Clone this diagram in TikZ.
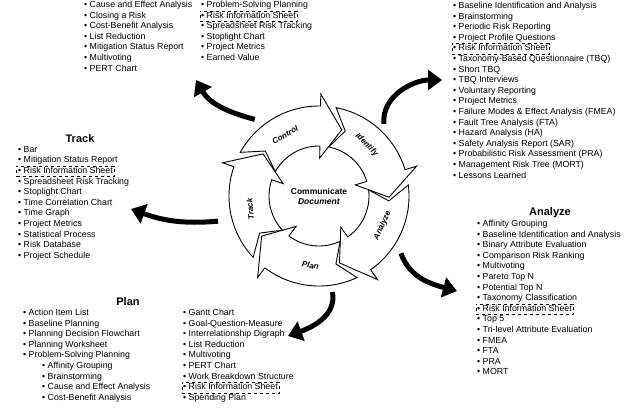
\documentclass[tikz,border=0pt]{standalone}
\usepackage{fontspec}
\setmainfont{Liberation Sans}
\usetikzlibrary{arrows.meta}

\newcommand\risbox[1]{\hspace*{-1.7pt}\tikz[baseline=(rb.base)]\node[draw, dashed, line width=.4pt, anchor=base west, inner xsep=1.5pt, inner ysep=0pt] (rb) {#1};}

\begin{document}
\begin{tikzpicture}[x=1pt, y=1pt,
        ringarrow/.style={draw=black, fill=white, line width=0.9pt},
        ringlabel/.style={font=\fontsize{8}{9}\selectfont\bfseries\itshape},
        hubtext/.style={font=\fontsize{8.5}{10}\selectfont\bfseries, align=center},
        swoosh/.style={line width=5pt, -{Triangle[length=14pt, width=20pt]}},
        listtitle/.style={font=\fontsize{11}{13}\selectfont\bfseries},
        itemlist/.style={anchor=north west, inner sep=0pt, align=left,
            font=\fontsize{8.8}{10.6}\selectfont, execute at begin node=\strut}]
            \useasboundingbox (0,0) rectangle (640,-408);

            % the wheel
            \coordinate (hub) at (319,-196);
            \begin{scope}[shift={(hub)}]
                \foreach \tip/\name/\lrot in {71/Control/29, -1/Identify/-45, -73/Analyze/65, -145/Plan/-10, 143/Track/95} {
                    \draw[ringarrow] (\tip+80:90) arc[start angle=\tip+80, end angle=\tip+18, radius=90]
                        -- (\tip+18:102) -- (\tip:70) -- (\tip+18:38) -- (\tip+18:50)
                        arc[start angle=\tip+18, end angle=\tip+80, radius=50] -- (\tip+69:70) -- cycle;
                    \node[ringlabel, rotate=\lrot] (\name) at (\tip+48:70) {\name};
                }
            \end{scope}
            \node[hubtext] (center) at (hub) {Communicate\\\textit{Document}};

            % swooshes out to the lists
            \path (hub) ++(130:100) coordinate (ctrl-from);
            \path (hub) ++(48:97)   coordinate (iden-from);
            \path (hub) ++(-35:100) coordinate (anal-from);
            \path (hub) ++(-82:97)  coordinate (plan-from);
            \path (hub) ++(194:104) coordinate (trck-from);
            \coordinate (ctrl-to) at (196,-80);
            \coordinate (iden-to) at (442,-80);
            \coordinate (anal-to) at (457,-291);
            \coordinate (plan-to) at (288,-336);
            \coordinate (trck-to) at (131,-209);

            \draw[swoosh] (ctrl-from) to[out=165, in=-60] (ctrl-to);
            \draw[swoosh] (iden-from) to[out=95, in=180] (iden-to);
            \draw[swoosh] (anal-from) to[out=-70, in=165] (anal-to);
            \draw[swoosh] (plan-from) to[out=-80, in=20] (plan-to);
            \draw[swoosh] (trck-from) to[out=185, in=-20] (trck-to);

            % Control
            \node[itemlist] (ctrl-a) at (84,-1) {• Cause and Effect Analysis\\• Closing a Risk\\• Cost-Benefit Analysis\\• List Reduction\\• Mitigation Status Report\\• Multivoting\\• PERT Chart};
            \node[itemlist] (ctrl-b) at (201,-1) {• Problem-Solving Planning\\\risbox{• Risk Information Sheet}\\• Spreadsheet Risk Tracking\\• Stoplight Chart\\• Project Metrics\\• Earned Value};

            % Identify
            \node[itemlist] (iden) at (453,-2) {• Baseline Identification and Analysis\\• Brainstorming\\• Periodic Risk Reporting\\• Project Profile Questions\\\risbox{• Risk Information Sheet}\\• Taxonomy-Based Questionnaire (TBQ)\\• Short TBQ\\• TBQ Interviews\\• Voluntary Reporting\\• Project Metrics\\• Failure Modes \& Effect Analysis (FMEA)\\• Fault Tree Analysis (FTA)\\• Hazard Analysis (HA)\\• Safety Analysis Report (SAR)\\• Probabilistic Risk Assessment (PRA)\\• Management Risk Tree (MORT)\\• Lessons Learned};

            % Track
            \node[listtitle] (trck-title) at (80,-139) {Track};
            \node[itemlist] (trck) at (18,-146) {• Bar\\• Mitigation Status Report\\\risbox{• Risk Information Sheet}\\• Spreadsheet Risk Tracking\\• Stoplight Chart\\• Time Correlation Chart\\• Time Graph\\• Project Metrics\\• Statistical Process\\• Risk Database\\• Project Schedule};

            % Analyze
            \node[listtitle] (anal-title) at (550,-213) {Analyze};
            \node[itemlist] (anal) at (477,-220) {• Affinity Grouping\\• Baseline Identification and Analysis\\• Binary Attribute Evaluation\\• Comparison Risk Ranking\\• Multivoting\\• Pareto Top N\\• Potential Top N\\• Taxonomy Classification\\\risbox{• Risk Information Sheet}\\• Top 5\\• Tri-level Attribute Evaluation\\• FMEA\\• FTA\\• PRA\\• MORT};

            % Plan
            \node[listtitle] (plan-title) at (128,-302) {Plan};
            \node[itemlist] (plan-a) at (23,-309) {• Action Item List\\• Baseline Planning\\• Planning Decision Flowchart\\• Planning Worksheet\\• Problem-Solving Planning\\\hspace*{19pt}• Affinity Grouping\\\hspace*{19pt}• Brainstorming\\\hspace*{19pt}• Cause and Effect Analysis\\\hspace*{19pt}• Cost-Benefit Analysis};
            \node[itemlist] (plan-b) at (183,-309) {• Gantt Chart\\• Goal-Question-Measure\\• Interrelationship Digraph\\• List Reduction\\• Multivoting\\• PERT Chart\\• Work Breakdown Structure\\\risbox{• Risk Information Sheet}\\• Spending Plan};

        \end{tikzpicture}
\end{document}
